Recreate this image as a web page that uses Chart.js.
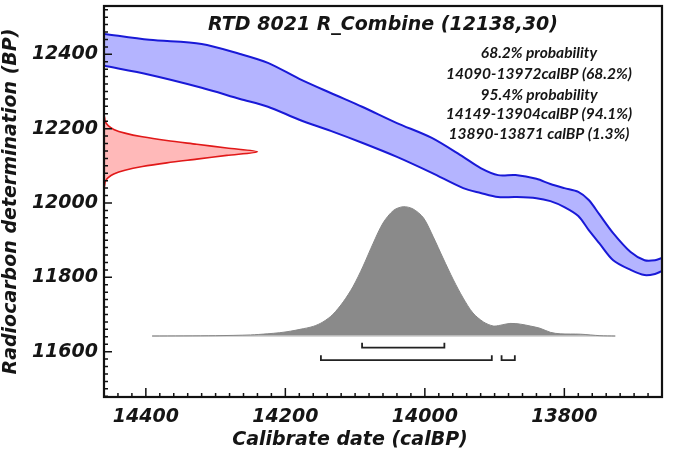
<!DOCTYPE html>
<html lang="en">
<head>
<meta charset="UTF-8">
<title>RTD 8021 R_Combine</title>
<script src="https://cdn.jsdelivr.net/npm/chart.js@4.4.0/dist/chart.umd.min.js"></script>
<style>
  body { margin: 0; background: #fff; }
  #wrap { width: 675px; height: 455px; }
</style>
</head>
<body>
<div id="wrap"><canvas id="calchart"></canvas></div>
<script>
// calibration curve band, calBP vs BP (upper and lower edge)
var curveX  = [14460, 14395, 14320, 14265, 14225, 14180, 14135, 14090, 14040, 13990, 13945, 13920, 13895, 13870, 13840, 13820, 13800, 13780, 13765, 13750, 13730, 13705, 13685, 13670, 13660];
var curveHi = [12455, 12439, 12428, 12401, 12377, 12334, 12296, 12259, 12215, 12175, 12124, 12094, 12075, 12075, 12065, 12051, 12040, 12030, 12008, 11970, 11919, 11868, 11846, 11846, 11852];
var curveLo = [12369, 12345, 12310, 12280, 12259, 12224, 12194, 12162, 12124, 12081, 12040, 12027, 12016, 12016, 12013, 12005, 11989, 11965, 11927, 11892, 11846, 11820, 11806, 11809, 11817];

// radiocarbon measurement 12138 +/- 30, drawn along the y axis
var measY = [12238, 12228, 12218, 12208, 12198, 12188, 12178, 12168, 12158, 12148, 12138, 12128, 12118, 12108, 12098, 12088, 12078, 12068, 12058, 12048, 12038];
var measX = [14460, 14459, 14458, 14454, 14446, 14430, 14405, 14370, 14327, 14284, 14240, 14284, 14327, 14370, 14405, 14430, 14446, 14454, 14458, 14459, 14460];

// calibrated date distribution
var probX = [14391, 14300, 14250, 14226, 14208, 14193, 14179, 14160, 14146, 14132, 14117, 14103, 14089, 14074, 14060, 14045, 14031, 14017, 14002, 13988, 13974, 13959, 13945, 13931, 13916, 13902, 13892, 13878, 13863, 13849, 13835, 13820, 13806, 13777, 13749, 13727];
var probY = [11642, 11643, 11645, 11648, 11651, 11655, 11660, 11668, 11680, 11700, 11734, 11775, 11828, 11892, 11946, 11980, 11990, 11984, 11960, 11909, 11852, 11793, 11744, 11704, 11680, 11669, 11671, 11676, 11674, 11669, 11663, 11652, 11648, 11647, 11643, 11642];
var probBase = 11642;

// highest density ranges
var range68 = [[14090, 13972]];
var range95 = [[14149, 13904], [13890, 13871]];
var level68 = 11611, level95 = 11577, bracketRise = 13;

var xTicks = [14400, 14200, 14000, 13800];
var yTicks = [11600, 11800, 12000, 12200, 12400];

var titleText = 'RTD 8021 R_Combine (12138,30)';
var notes = ['68.2% probability', '14090-13972calBP (68.2%)', '95.4% probability', '14149-13904calBP (94.1%)', '13890-13871 calBP (1.3%)'];

function zip(xs, ys) {
    return xs.map(function (x, i) { return { x: x, y: ys[i] }; });
}

function bracket(r, level) {
    return [
        { x: r[0], y: level + bracketRise },
        { x: r[0], y: level },
        { x: r[1], y: level },
        { x: r[1], y: level + bracketRise }
    ];
}

var FONT = '"DejaVu Sans"';
var NOTE_FONT = 'Lato';

var datasets = [
    {
        data: zip(curveX, curveHi),
        borderColor: 'rgb(25,25,215)', borderWidth: 2,
        backgroundColor: 'rgb(180,180,255)',
        fill: '+1', pointRadius: 0, tension: 0.3
    },
    {
        data: zip(curveX, curveLo),
        borderColor: 'rgb(25,25,215)', borderWidth: 2,
        fill: false, pointRadius: 0, tension: 0.3
    },
    {
        data: zip(measX, measY),
        borderColor: 'rgb(225,25,25)', borderWidth: 1.6,
        backgroundColor: 'rgb(255,185,185)',
        fill: 'shape', pointRadius: 0, tension: 0.3
    },
    {
        data: zip(probX, probY),
        borderColor: 'rgb(135,135,135)', borderWidth: 1,
        backgroundColor: 'rgb(138,138,138)',
        fill: { value: probBase }, pointRadius: 0, tension: 0.3
    },
    {
        data: [{ x: probX[0], y: probBase }, { x: probX[probX.length - 1], y: probBase }],
        borderColor: 'rgb(200,200,200)', borderWidth: 1.5,
        fill: false, pointRadius: 0
    }
];

range68.forEach(function (r) {
    datasets.push({ data: bracket(r, level68), borderColor: '#222', borderWidth: 1.8, fill: false, pointRadius: 0, tension: 0 });
});
range95.forEach(function (r) {
    datasets.push({ data: bracket(r, level95), borderColor: '#222', borderWidth: 1.8, fill: false, pointRadius: 0, tension: 0 });
});

// frame, inward ticks and the texts inside the plot
var decor = {
    id: 'decor',
    afterDraw: function (chart) {
        var ctx = chart.ctx, a = chart.chartArea;
        var sx = chart.scales.x, sy = chart.scales.y;
        ctx.save();
        ctx.strokeStyle = '#111';
        ctx.lineWidth = 1.5;
        ctx.beginPath();
        for (var v = 13680; v < 14460; v += 20) {
            var px = sx.getPixelForValue(v);
            var len = xTicks.indexOf(v) >= 0 ? 9 : 4;
            ctx.moveTo(px, a.bottom);
            ctx.lineTo(px, a.bottom - len);
        }
        for (var w = 11480; w < 12530; w += 20) {
            var py = sy.getPixelForValue(w);
            var len2 = yTicks.indexOf(w) >= 0 ? 8 : 4;
            ctx.moveTo(a.left, py);
            ctx.lineTo(a.left + len2, py);
        }
        ctx.stroke();

        ctx.lineWidth = 2.2;
        ctx.strokeRect(a.left, a.top, a.right - a.left, a.bottom - a.top);

        ctx.fillStyle = '#151515';
        ctx.textAlign = 'center';
        ctx.textBaseline = 'alphabetic';
        ctx.font = 'italic bold 19px ' + FONT;
        ctx.fillText(titleText, (a.left + a.right) / 2, a.top + 24);

        ctx.font = 'italic bold 15.5px ' + NOTE_FONT;
        var base = [58, 79, 100, 119, 139];
        notes.forEach(function (t, i) {
            ctx.fillText(t, 539, base[i]);
        });

        ctx.font = 'italic bold 19px ' + FONT;
        ctx.fillText('Calibrate date (calBP)', 350, 445);
        ctx.restore();
    }
};

function noPad(s) {
    s.paddingTop = 0; s.paddingBottom = 0; s.paddingLeft = 0; s.paddingRight = 0;
}

new Chart(document.getElementById('calchart'), {
    type: 'line',
    data: { datasets: datasets },
    options: {
        responsive: true,
        maintainAspectRatio: false,
        animation: false,
        layout: { padding: { top: 6, right: 13, left: 0, bottom: 0 } },
        plugins: {
            legend: { display: false }, tooltip: { enabled: false }, title: { display: false },
            filler: { drawTime: 'beforeDatasetsDraw' }
        },
        scales: {
            x: {
                type: 'linear', reverse: true, min: 13660, max: 14460,
                grid: { display: false, drawTicks: false },
                border: { display: false },
                afterBuildTicks: function (s) { s.ticks = xTicks.map(function (v) { return { value: v }; }); },
                afterFit: function (s) { s.height = 58; noPad(s); },
                ticks: {
                    padding: 9, autoSkip: false, maxRotation: 0,
                    color: '#151515',
                    callback: function (v) { return String(v); },
                    font: { family: FONT, size: 19, style: 'italic', weight: 'bold' }
                }
            },
            y: {
                type: 'linear', min: 11478, max: 12530,
                grid: { display: false, drawTicks: false },
                border: { display: false },
                afterBuildTicks: function (s) { s.ticks = yTicks.map(function (v) { return { value: v }; }); },
                afterFit: function (s) { s.width = 104; noPad(s); },
                ticks: {
                    padding: 6, autoSkip: false,
                    color: '#151515',
                    callback: function (v) { return String(v); },
                    font: { family: FONT, size: 19, style: 'italic', weight: 'bold' }
                },
                title: {
                    display: true, text: 'Radiocarbon determination (BP)',
                    color: '#151515', padding: 0,
                    font: { family: FONT, size: 19, style: 'italic', weight: 'bold' }
                }
            }
        }
    },
    plugins: [decor]
});
</script>
</body>
</html>
